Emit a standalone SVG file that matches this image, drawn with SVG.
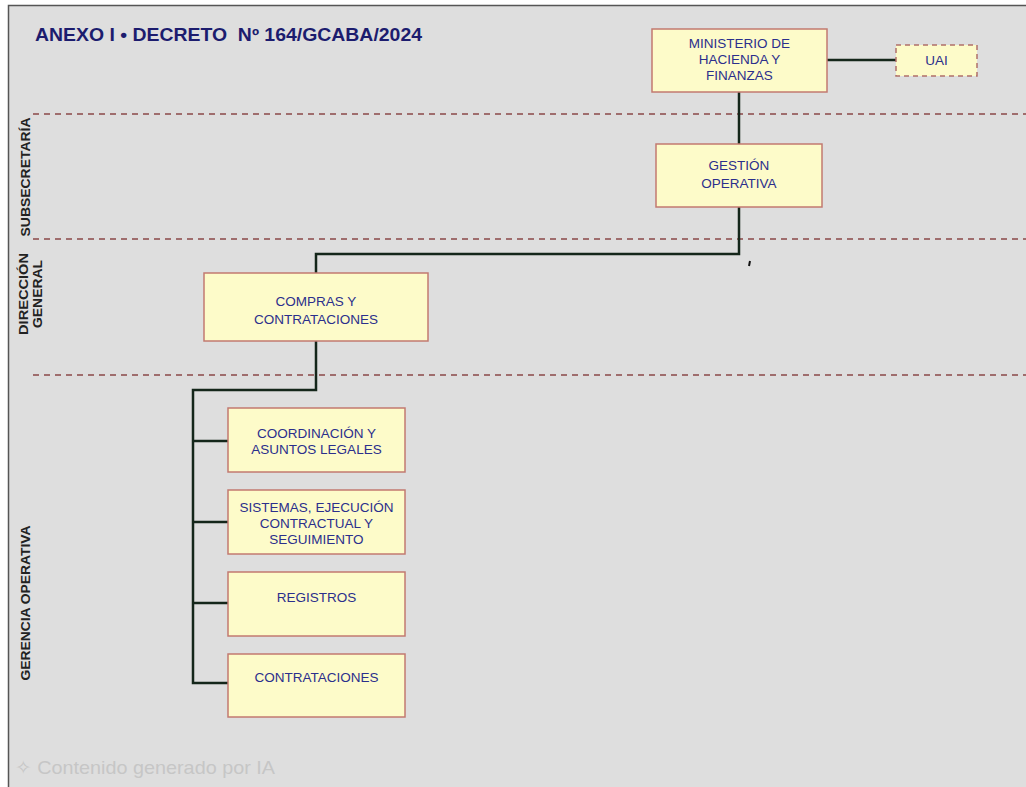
<svg xmlns="http://www.w3.org/2000/svg" width="1026" height="787" viewBox="0 0 1026 787">
<style>
.box{fill:#fdfbc9;stroke:#c27a70;stroke-width:1.5}
.dbox{fill:#fdfbc9;stroke:#b0706a;stroke-width:1.5;stroke-dasharray:5 4}
.t{font-family:"Liberation Sans",Arial,sans-serif;font-size:13.5px;fill:#2b2f8c;text-anchor:middle}
.side{font-family:"Liberation Sans",Arial,sans-serif;font-size:13px;font-weight:bold;fill:#222;text-anchor:middle}
.sep{stroke:#8a4848;stroke-width:1.5;stroke-dasharray:6 5;fill:none}
.con{stroke:#14261a;stroke-width:2.5;fill:none}
</style>
<rect x="0" y="0" width="1026" height="787" fill="#ffffff"/>
<rect x="8" y="5" width="1018" height="782" fill="#dedede"/>
<path d="M8.5 787 V5.5 H1026" stroke="#555" stroke-width="1.5" fill="none"/>
<text x="35" y="41" font-family="Liberation Sans,Arial,sans-serif" font-size="18" font-weight="bold" fill="#1c1c6e" xml:space="preserve" textLength="387" lengthAdjust="spacingAndGlyphs">ANEXO I • DECRETO  Nº 164/GCABA/2024</text>
<g id="separators">
<line class="sep" x1="33" y1="114" x2="1026" y2="114"/>
<line class="sep" x1="33" y1="239" x2="1026" y2="239"/>
<line class="sep" x1="33" y1="375" x2="1026" y2="375"/>
</g>
<g id="levels">
<text class="side" transform="translate(30,177) rotate(-90)" textLength="119" lengthAdjust="spacingAndGlyphs">SUBSECRETARÍA</text>
<text class="side" transform="translate(28,294) rotate(-90)" textLength="82" lengthAdjust="spacingAndGlyphs">DIRECCIÓN</text>
<text class="side" transform="translate(42,294) rotate(-90)" textLength="68" lengthAdjust="spacingAndGlyphs">GENERAL</text>
<text class="side" transform="translate(30,603) rotate(-90)" textLength="155" lengthAdjust="spacingAndGlyphs">GERENCIA OPERATIVA</text>
</g>
<g id="connectors">
<line class="con" x1="827" y1="60" x2="896" y2="60"/>
<line class="con" x1="739" y1="92" x2="739" y2="144"/>
<polyline class="con" points="739,207 739,254 316,254 316,273"/>
<polyline class="con" points="316,341 316,390 193,390 193,683 228,683"/>
<line class="con" x1="193" y1="441" x2="228" y2="441"/>
<line class="con" x1="193" y1="522" x2="228" y2="522"/>
<line class="con" x1="193" y1="603" x2="228" y2="603"/>
<line x1="750" y1="261" x2="749" y2="266" stroke="#111" stroke-width="2"/>
</g>
<g id="ministerio">
<rect class="box" x="652" y="29" width="175" height="63"/>
<text class="t" x="739.5" y="48">MINISTERIO DE</text>
<text class="t" x="739.5" y="64">HACIENDA Y</text>
<text class="t" x="739.5" y="80">FINANZAS</text>
</g>
<g id="uai">
<rect class="dbox" x="896" y="45" width="81" height="31"/>
<text class="t" x="936.5" y="65">UAI</text>
</g>
<g id="gestion">
<rect class="box" x="656" y="144" width="166" height="63"/>
<text class="t" x="739" y="170">GESTIÓN</text>
<text class="t" x="739" y="188">OPERATIVA</text>
</g>
<g id="compras">
<rect class="box" x="204" y="273" width="224" height="68"/>
<text class="t" x="316" y="306">COMPRAS Y</text>
<text class="t" x="316" y="324">CONTRATACIONES</text>
</g>
<g id="coordinacion">
<rect class="box" x="228" y="408" width="177" height="64"/>
<text class="t" x="316.5" y="438">COORDINACIÓN Y</text>
<text class="t" x="316.5" y="454">ASUNTOS LEGALES</text>
</g>
<g id="sistemas">
<rect class="box" x="228" y="490" width="177" height="64"/>
<text class="t" x="316.5" y="512">SISTEMAS, EJECUCIÓN</text>
<text class="t" x="316.5" y="528">CONTRACTUAL Y</text>
<text class="t" x="316.5" y="544">SEGUIMIENTO</text>
</g>
<g id="registros">
<rect class="box" x="228" y="572" width="177" height="64"/>
<text class="t" x="316.5" y="602">REGISTROS</text>
</g>
<g id="contrataciones">
<rect class="box" x="228" y="654" width="177" height="63"/>
<text class="t" x="316.5" y="682">CONTRATACIONES</text>
</g>
<text x="15" y="774" font-family="Liberation Sans,Arial,sans-serif" font-size="19" fill="#c6c6c6" textLength="260" lengthAdjust="spacingAndGlyphs">✧ Contenido generado por IA</text>
</svg>
